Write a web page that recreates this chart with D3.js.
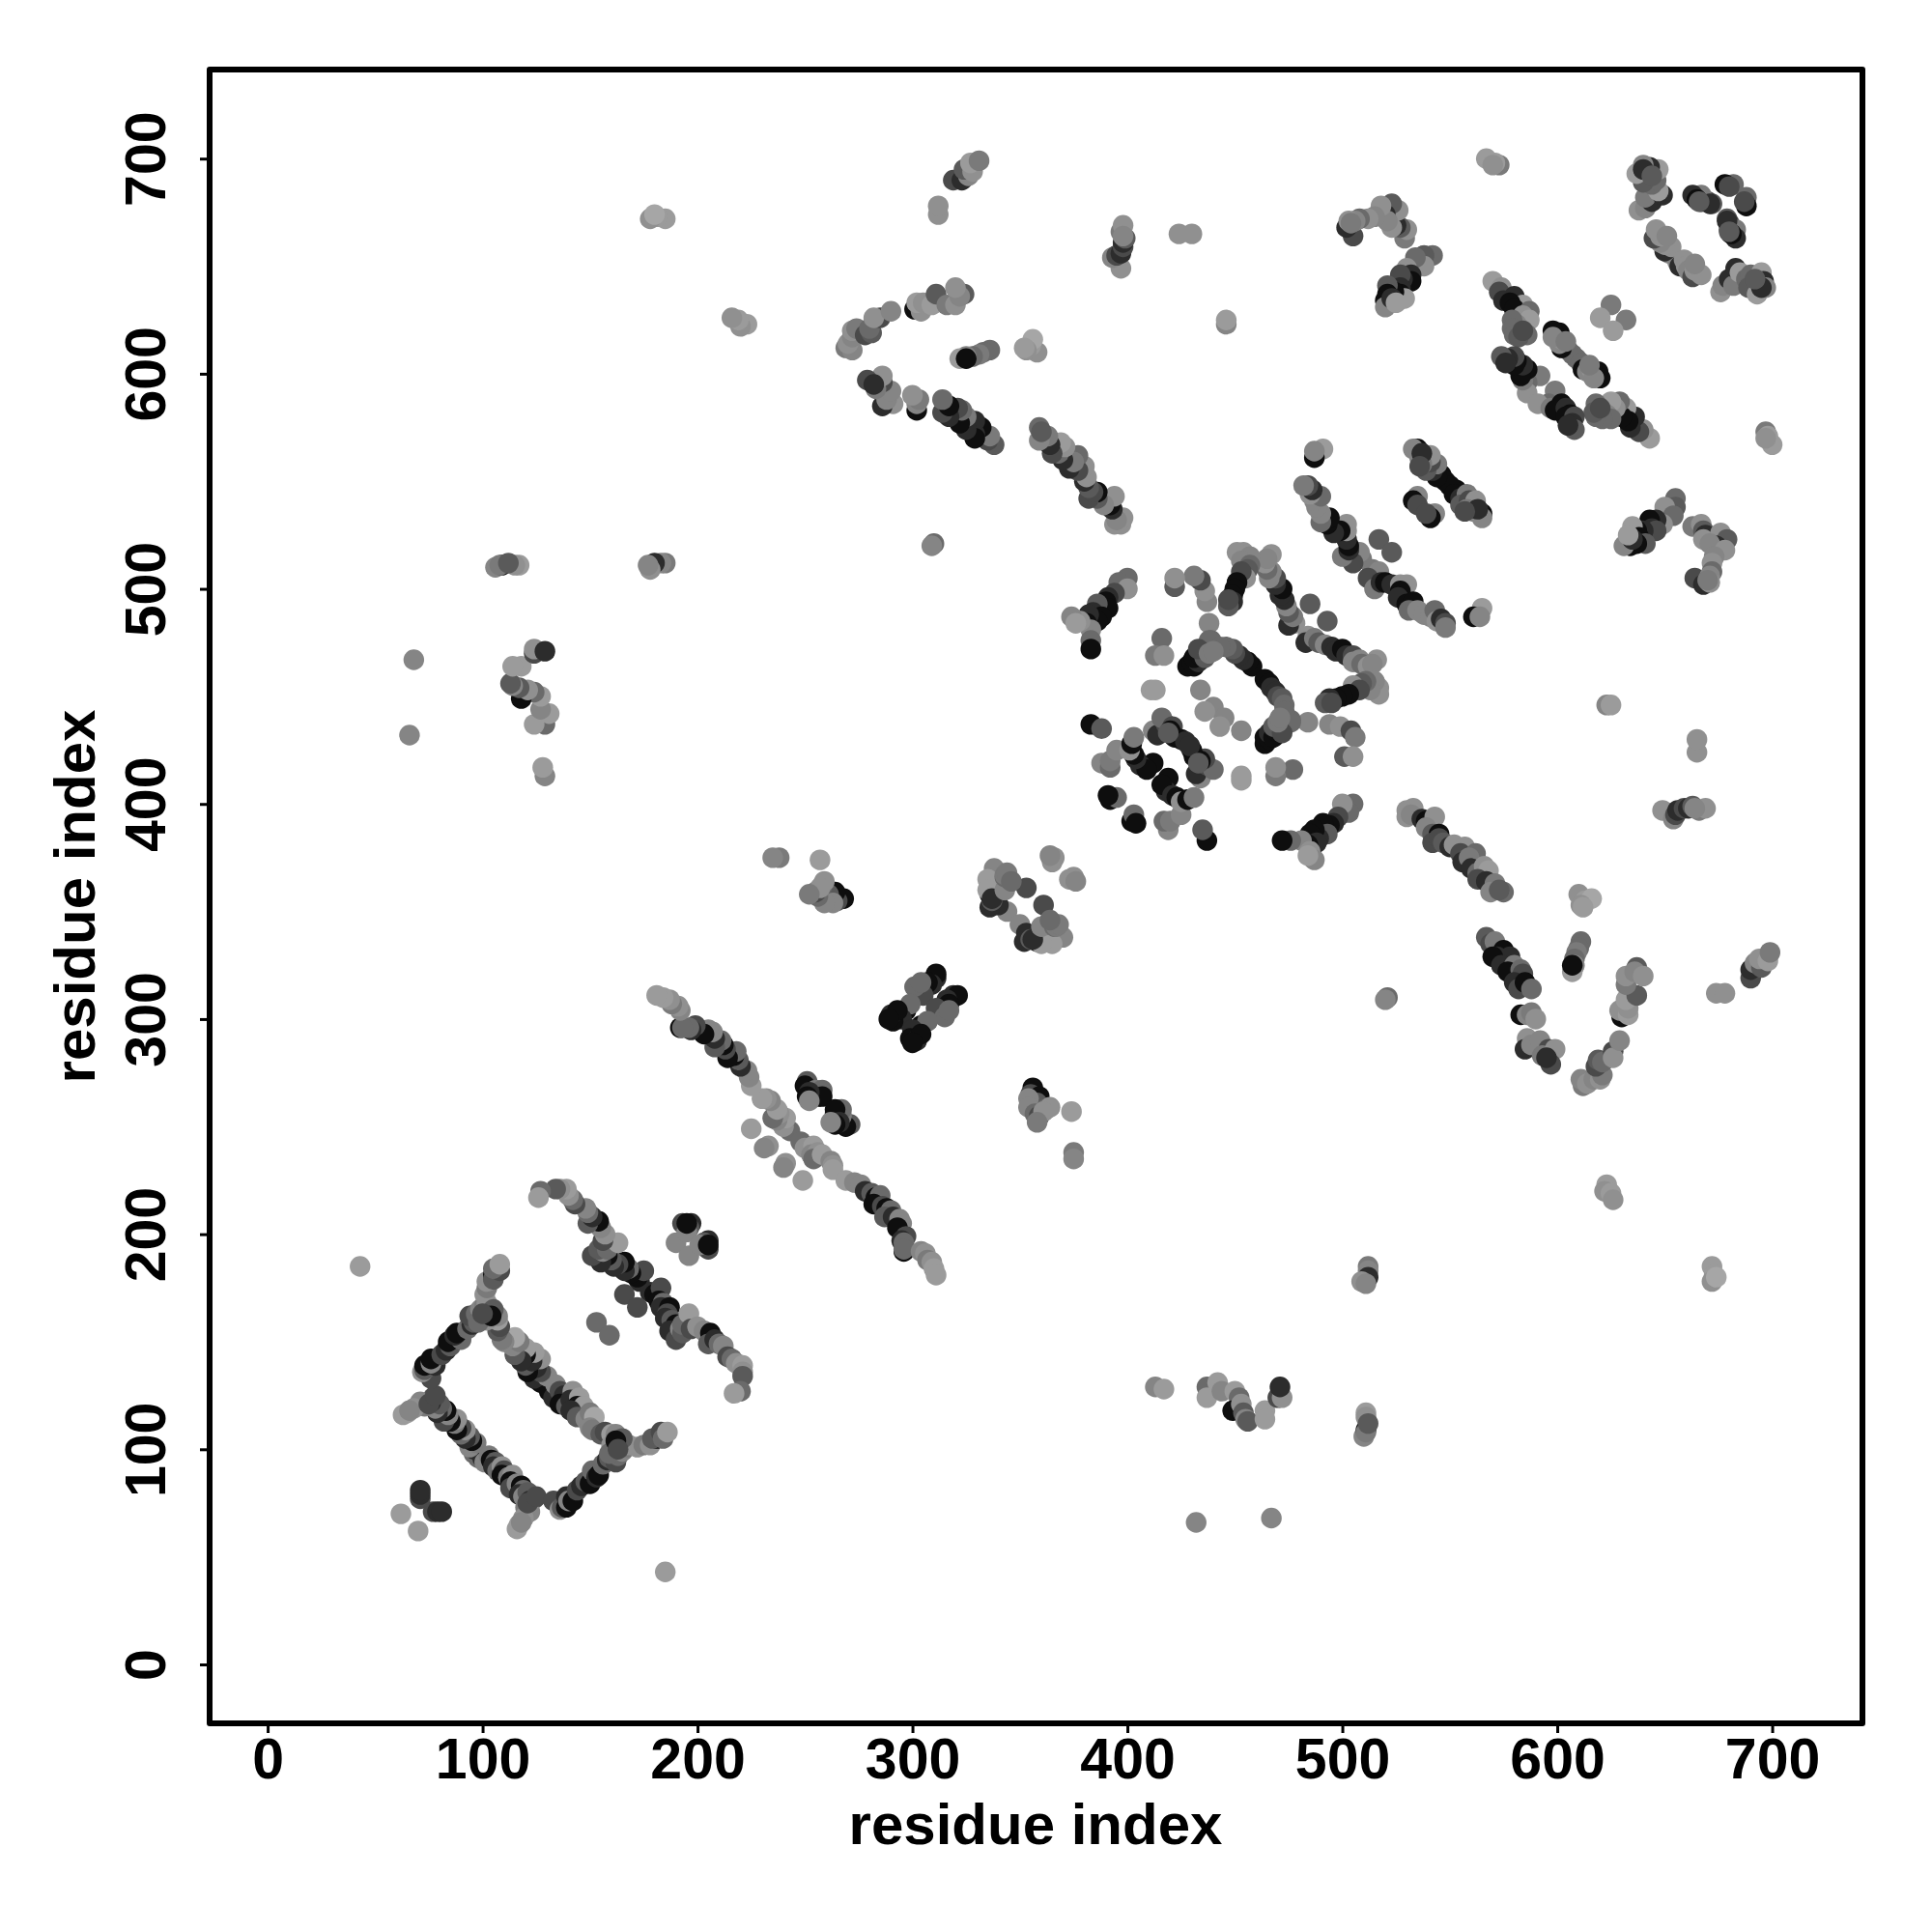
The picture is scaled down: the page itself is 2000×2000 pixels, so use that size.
<!DOCTYPE html>
<html><head><meta charset="utf-8">
<script src="https://cdn.jsdelivr.net/npm/d3@7"></script>
<style>html,body{margin:0;padding:0;background:#fff}svg{display:block}</style>
</head><body><svg id="chart" width="2000" height="2000"></svg>
<script>
// Contact pairs [i, j, shade] with i > j; the map is symmetric so every pair is drawn at (i,j) and (j,i).
const ladderA = [[98,96,5],[100,96,8],[101,94,3],[103,97,4],[104,95,9],[106,94,6],[105,92,8],[107,90,5],[109,92,2],[110,90,7],[109,88,9],[112,87,4],[114,88,2],[113,85,9],[115,83,6],[113,82,7],[116,84,3],[118,83,9],[119,81,5],[117,79,8],[119,78,3],[121,80,6],[124,77,6],[122,76,8],[120,73,4],[122,71,3],[119,68,2],[117,65,1],[116,63,1],[118,66,3],[121,75,7],[125,78,7]];
const ladderB = [[133,76,7],[136,72,2],[137,73,6],[139,73,9],[139,78,8],[140,76,3],[142,76,9],[144,81,7],[146,83,8],[148,85,6],[150,84,9],[151,90,5],[153,87,8],[154,88,9],[156,93,5],[158,95,8],[159,96,6],[162,94,7],[163,97,5],[165,99,3],[167,101,4],[168,102,2],[172,101,2],[175,102,4],[178,102,2],[181,105,9],[179,105,6],[183,108,7],[184,105,5],[186,108,1]];
const ladderC = [[131,127,9],[133,124,8],[134,130,3],[136,127,7],[138,125,8],[136,121,9],[139,120,6],[142,127,2],[141,123,8],[145,124,1],[144,120,9],[147,120,1],[141,118,8],[144,115,6],[148,114,3],[150,117,4],[152,115,0],[150,110,3],[151,109,4],[155,107,6],[157,108,7],[160,107,1],[162,107,3],[165,105,6],[160,102,2],[159,98,5],[162,104,9],[163,100,7]];
const ladderD = [[178,173,8],[180,172,9],[183,175,7],[182,169,9],[184,168,5],[183,166,8],[187,166,9],[186,163,7],[185,161,8],[188,160,6],[190,158,9],[187,155,8],[190,151,7],[192,156,3],[193,154,6],[193,158,5],[196,163,1],[197,156,7],[200,157,2],[203,155,3],[206,154,9],[205,149,6],[208,151,8],[210,149,5],[212,148,3],[214,143,7],[216,142,5],[218,140,2],[221,139,1],[221,136,2],[221,134,6],[220,127,5],[217,126,1],[172,166,7],[159,153,5]];
const smallA = [[77,71,7],[79,71,8],[81,71,8],[70,62,1],[185,43,1],[196,190,3],[205,197,8],[203,196,6],[205,193,7],[201,195,3],[205,195,9]];
const ladderE = [[248,243,5],[250,240,2],[254,241,1],[253,237,3],[256,238,2],[254,235,5],[258,237,1],[262,234,3],[263,232,2],[263,230,1],[249,225,1],[241,233,2],[240,231,3],[269,225,1],[273,224,3],[276,223,3],[278,220,8],[281,219,6],[283,217,9],[285,218,5],[282,214,9],[286,213,7],[288,212,9],[290,211,5],[287,208,6],[291,208,8],[294,207,3],[295,205,3],[293,203,9],[297,199,7],[295,197,8],[296,196,5],[296,192,9],[296,193,5],[304,192,3],[306,191,2],[307,188,4],[309,187,2],[310,184,1],[311,181,1]];
const clusterF = [[271,251,6],[269,250,9],[267,255,4],[264,256,9],[267,258,5],[264,258,9],[266,252,8],[264,251,9],[262,252,3]];
const clusterG = [[319,311,8],[321,311,9],[316,309,8],[317,307,9],[314,305,9],[311,305,7],[315,301,5],[317,304,5],[304,297,9],[307,299,5],[301,293,9],[300,295,8],[299,291,9],[302,290,8],[304,293,9],[300,289,9]];
const clusterH = [[356,268,9],[355,265,7],[359,264,9],[358,261,6],[354,263,3],[354,259,3],[357,256,5],[359,255,7],[362,258,5],[364,259,2],[361,257,2],[358,252,4],[374,257,1],[375,238,4],[375,235,3]];
const clusterI = [[373,365,2],[375,366,2],[376,364,3],[361,353,7],[350,344,3],[353,340,8],[352,336,8],[355,337,6],[358,336,9],[361,338,9],[363,336,4],[364,341,5],[366,338,9],[368,340,9],[370,338,3],[365,335,1],[360,335,1],[356,337,8],[360,343,3],[366,343,5],[367,343,4],[368,344,4],[364,346,5]];
const strandJ = [[505,400,5],[503,396,5],[500,400,2],[498,394,7],[496,391,8],[494,390,9],[491,391,9],[493,386,6],[489,384,8],[487,388,9],[485,386,9],[488,382,8],[484,381,9],[481,383,3],[476,383,5],[472,383,9],[485,378,2],[487,374,3],[484,376,1]];
const knotK = [[437,383,9],[435,388,6],[402,392,9],[403,395,5],[404,391,9],[419,388,3],[417,392,5],[420,392,4],[425,395,3],[419,412,9],[418,406,8],[416,409,9],[421,404,8],[423,403,9],[425,401,2],[428,402,9],[431,403,4],[434,412,3],[432,414,8],[437,418,7],[440,416,5],[436,421,7],[434,420,9],[431,422,9],[430,425,9],[429,427,8],[433,419,6],[477,416,5],[469,413,4],[469,417,2],[453,411,1],[453,413,1],[453,434,3],[445,440,3],[443,436,2]];
const knotL = [[484,438,3],[476,439,5],[494,437,3],[499,436,2],[504,434,7],[506,431,4],[501,422,6],[505,422,2],[493,485,6]];
const strandM = [[464,428,9],[464,431,9],[466,430,9],[466,433,8],[468,431,9],[469,434,9],[471,436,5],[468,436,6],[473,439,5],[476,438,5],[472,433,7],[470,438,4]];
const strandN = [[464,458,9],[466,456,9],[467,454,8],[469,452,8],[470,450,7],[472,449,6],[473,446,5],[473,443,5],[471,440,4]];
const strandO = [[484,478,2],[483,475,8],[487,477,4],[489,475,6],[492,474,3],[495,473,8],[497,471,8],[500,472,9],[502,469,8],[505,469,7],[505,466,3],[508,467,3],[509,465,5],[512,464,2],[516,467,2],[514,465,3]];
const strandP = [[517,454,2],[517,451,2],[515,457,3],[513,453,3],[511,457,5],[509,456,6],[505,455,2],[508,453,7],[503,451,9],[500,450,9],[497,449,9],[494,449,8],[492,447,6],[495,447,7]];
const strandQ = [[530,397,2],[533,398,2],[530,394,2],[532,395,3],[537,393,8],[539,392,9],[543,394,2],[539,389,3],[542,386,6],[545,386,9],[542,382,7],[545,384,7],[547,382,6],[550,380,8],[552,381,2],[557,380,2],[555,377,7],[562,377,5],[556,373,8],[559,375,4],[560,370,8],[563,368,5],[566,371,2],[568,369,1],[563,365,7],[567,364,8],[571,363,4],[569,359,3],[575,359,5],[573,360,6]];
const strandR = [[567,338,6],[569,335,7],[571,336,4],[575,332,9],[572,329,8],[578,329,8],[570,329,9],[574,325,8],[580,325,4],[577,322,9],[583,323,5],[584,321,7],[580,317,8],[582,314,7],[585,317,9],[588,314,5]];
const strandS = [[583,302,9],[586,302,3],[588,303,4],[590,300,2],[586,291,2],[585,286,8],[588,288,3],[592,290,3],[596,286,7],[593,283,4],[599,286,2],[597,279,7],[595,282,8]];
const strandT = [[612,269,4],[611,272,3],[614,270,2],[617,272,3],[620,272,2],[621,274,4],[618,278,7],[619,281,6],[621,280,5],[626,285,7],[626,282,2],[629,290,3]];
const strandU = [[630,301,9],[629,304,2],[633,302,1],[633,305,2],[632,309,1],[637,311,6],[632,316,4],[632,320,2],[637,324,6],[636,322,3],[640,320,2],[611,336,5],[610,333,5],[609,331,4],[608,328,5],[608,325,3],[607,322,1],[607,325,9],[610,358,2],[613,355,1],[616,356,0],[611,353,2],[612,352,1]];
const farV = [[521,310,5],[520,309,3],[674,312,2],[678,312,2],[690,319,7],[690,323,8],[692,326,3],[695,324,6],[694,328,2],[698,327,1],[699,331,4],[623,223,1],[622,220,2],[625,219,1],[626,216,2],[672,185,1],[673,181,1],[672,178,2],[674,180,0],[512,185,4],[512,183,3],[512,180,8],[509,178,2],[511,177,3]];
const farW = [[413,129,3],[417,128,1],[437,129,5],[437,124,1],[442,131,1],[444,127,3],[450,127,1],[452,124,5],[449,118,9],[453,121,2],[454,117,6],[455,114,3],[456,113,6],[464,118,1],[464,114,1],[470,124,7],[472,124,2],[471,129,8],[511,117,1],[511,115,2],[510,106,3],[511,109,9],[511,108,4],[512,112,6],[432,66,3],[467,68,3]];
const blockX = [[697,573,4],[698,571,1],[700,567,1],[697,570,2],[676,638,2],[677,641,3],[680,644,8],[682,641,4],[683,649,8],[685,647,1],[688,644,5],[690,646,5],[689,640,6],[693,637,1],[695,647,1],[696,643,8],[697,640,3],[695,640,8],[692,644,6]];
const blockY = [[688,682,5],[688,678,9],[687,680,7],[679,672,6],[680,670,7],[680,667,8],[683,667,4],[683,663,8],[679,671,8],[681,665,9],[680,666,6],[656,652,3],[657,650,8],[659,653,2],[660,650,2],[661,648,3],[663,645,7],[664,648,2],[667,646,2],[664,651,3]];
const blockZ = [[643,570,1],[640,574,2],[638,573,7],[636,580,8],[634,575,8],[632,584,1],[633,578,9],[630,580,9],[629,587,5],[627,584,2],[625,587,1],[623,581,3],[625,579,5],[621,579,5],[618,586,5],[618,580,5],[617,582,6],[620,584,7],[632,625,4],[626,620,1]];
const blockAA = [[609,607,5],[611,605,5],[612,602,9],[614,601,3],[616,602,2],[619,601,9],[620,598,9],[617,598,3],[615,604,4],[599,592,4],[596,586,5],[591,586,2],[597,584,4],[602,586,9],[599,583,9],[604,584,8],[606,581,9],[604,580,9],[608,580,7],[607,577,8],[608,574,6],[605,576,8]];
const blockAB = [[655,542,5],[655,538,6],[650,538,2],[654,534,5],[649,530,2],[646,532,8],[643,532,9],[644,528,8],[646,527,7],[640,527,8],[637,527,9],[635,529,1],[638,524,9],[641,521,6],[637,521,9],[634,520,9],[631,520,3],[635,523,8],[633,525,1]];
const blockAC = [[663,529,4],[667,530,2],[668,527,6],[669,525,8],[668,523,2],[676,526,2],[679,523,6],[674,520,8],[671,521,3],[678,518,2],[673,515,3],[672,512,2],[672,508,5],[664,505,7],[671,506,3],[668,502,8],[671,503,2],[670,504,4]];
const strandAD = [[514,509,4],[517,508,3],[512,505,7],[515,500,4],[518,503,8],[520,503,9],[523,502,8],[527,502,2],[530,502,2],[527,499,9],[526,496,8],[530,493,9],[533,494,9],[531,490,5],[535,490,3],[538,488,3],[541,487,3],[543,490,5],[544,485,2],[546,486,8],[548,484,7],[548,482,4],[565,491,1],[561,487,9],[564,487,3],[523,517,6]];
const strandAE = [[553,546,9],[550,548,9],[552,544,9],[555,542,8],[558,544,4],[555,539,6],[559,541,7],[562,541,2],[558,537,4],[561,536,3],[565,535,9],[565,533,3],[563,537,8],[557,536,7],[543,535,3],[541,533,9],[539,535,7]];
const farAF = [[649,397,2],[654,393,3],[655,395,7],[656,397,8],[659,398,7],[661,398,8],[663,399,6],[666,397,4],[669,398,2],[664,398,3],[665,424,2],[665,430,2],[623,446,3],[625,446,1]];

const contactGroups = [ladderA,ladderB,ladderC,ladderD,smallA,ladderE,clusterF,clusterG,clusterH,clusterI,strandJ,knotK,knotL,strandM,strandN,strandO,strandP,strandQ,strandR,strandS,strandT,strandU,farV,farW,blockX,blockY,blockZ,blockAA,blockAB,blockAC,strandAD,strandAE,farAF];

const xTickValues = [0,100,200,300,400,500,600,700];
const yTickValues = [0,100,200,300,400,500,600,700];
const axisTitle = "residue index";

const svg = d3.select("#chart");
const font = "'Liberation Sans', Arial, sans-serif";
const x = d3.scaleLinear().domain([-27,742]).range([217,1928]);
const y = d3.scaleLinear().domain([-27.4,741.4]).range([1784,72]);
const shadeScale = d3.scaleLinear().domain([0,4,7,9]).range(["#a6a6a6","#7a7a7a","#4a4a4a","#0e0e0e"]);

const contacts = [];
contactGroups.forEach(g => g.forEach(([i,j,s]) => {
  contacts.push({cx:j,cy:i,s});
  contacts.push({cx:i,cy:j,s});
}));

svg.append("g").selectAll("circle").data(contacts).join("circle")
  .attr("cx",d=>x(d.cx)).attr("cy",d=>y(d.cy)).attr("r",10.7)
  .attr("fill",d=>shadeScale(d.s));

svg.append("rect").attr("x",217).attr("y",72).attr("width",1711).attr("height",1712)
  .attr("fill","none").attr("stroke","#000").attr("stroke-width",6).attr("stroke-linejoin","round");

const gx = svg.append("g").attr("transform","translate(0,1784)")
  .call(d3.axisBottom(x).tickValues(xTickValues).tickSize(10).tickPadding(5).tickFormat(d3.format("d")));
const gy = svg.append("g").attr("transform","translate(217,0)")
  .call(d3.axisLeft(y).tickValues(yTickValues).tickSize(10).tickFormat(d3.format("d")));
[gx,gy].forEach(g=>{
  g.select(".domain").remove();
  g.selectAll("line").attr("stroke","#000").attr("stroke-width",3);
  g.selectAll("text").attr("font-family",font).attr("font-weight","bold").attr("font-size",59).attr("fill","#000");
});
gy.selectAll("text").attr("transform","rotate(-90)").attr("text-anchor","middle").attr("x",0).attr("y",-46).attr("dy",0);

svg.append("text").attr("x",1072).attr("y",1909).attr("text-anchor","middle")
  .attr("font-family",font).attr("font-weight","bold").attr("font-size",60).text(axisTitle);
svg.append("text").attr("transform","translate(98,928) rotate(-90)").attr("text-anchor","middle")
  .attr("font-family",font).attr("font-weight","bold").attr("font-size",60).text(axisTitle);
</script></body></html>
